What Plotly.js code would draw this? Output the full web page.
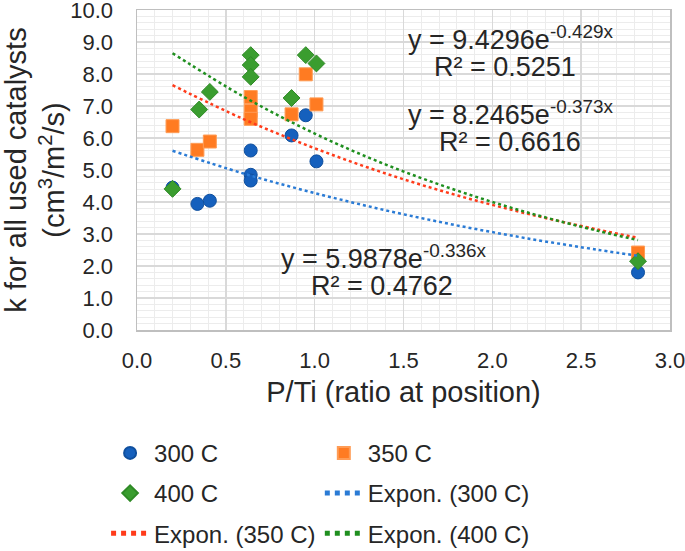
<!DOCTYPE html>
<html>
<head>
<meta charset="utf-8">
<script src="https://cdn.plot.ly/plotly-3.0.1.min.js"></script>
<style>
  html, body { margin: 0; padding: 0; background: #fff; }
  #chart { width: 685px; height: 551px; }
</style>
</head>
<body>
<div id="chart"></div>
<script>
// measured points, P/Ti ratio vs k
var x300 = [0.20, 0.34, 0.41, 0.64, 0.64, 0.64, 0.87, 0.95, 1.01, 2.82];
var k300 = [4.45, 3.94, 4.04, 5.61, 4.85, 4.67, 6.08, 6.71, 5.27, 1.80];

var x350 = [0.20, 0.34, 0.41, 0.64, 0.64, 0.64, 0.87, 0.95, 1.01, 2.82];
var k350 = [6.37, 5.63, 5.89, 7.28, 6.85, 6.60, 6.74, 7.99, 7.05, 2.42];

var x400 = [0.20, 0.35, 0.41, 0.64, 0.64, 0.64, 0.87, 0.95, 1.01, 2.82];
var k400 = [4.41, 6.89, 7.44, 8.59, 8.28, 7.91, 7.25, 8.59, 8.33, 2.15];

// trendline points
var xTrend = [0.2, 0.6, 1.0, 1.4, 1.8, 2.2, 2.6, 2.82];
var trend300 = [5.60, 4.89, 4.28, 3.74, 3.27, 2.86, 2.50, 2.32];
var trend350 = [7.65, 6.59, 5.68, 4.89, 4.21, 3.63, 3.13, 2.88];
var trend400 = [8.65, 7.29, 6.14, 5.17, 4.36, 3.67, 3.09, 2.81];

var font = 'Liberation Sans, Arial, sans-serif';

var traces = [
  {x: x300, y: k300, type: 'scatter', mode: 'markers', name: '300 C',
   legend: 'legend', legendgroup: 'a',
   marker: {symbol: 'circle', size: 13, color: '#1560bd', line: {color: '#0f4f9e', width: 1}}},
  {x: x350, y: k350, type: 'scatter', mode: 'markers', name: '350 C',
   legend: 'legend2', legendgroup: 'b',
   marker: {symbol: 'square', size: 13, color: '#ff7b22', line: {color: '#ff9c55', width: 1}}},
  {x: x400, y: k400, type: 'scatter', mode: 'markers', name: '400 C',
   legend: 'legend', legendgroup: 'c',
   marker: {symbol: 'diamond', size: 13, color: '#3a9d2f', line: {color: '#2f8a26', width: 1}}},
  {x: xTrend, y: trend300, type: 'scatter', mode: 'lines', name: 'Expon. (300 C)',
   legend: 'legend2', legendgroup: 'd',
   line: {shape: 'spline', dash: 'dot', width: 2.5, color: '#2a7bd5'}},
  {x: xTrend, y: trend350, type: 'scatter', mode: 'lines', name: 'Expon. (350 C)',
   legend: 'legend', legendgroup: 'e',
   line: {shape: 'spline', dash: 'dot', width: 2.5, color: '#ff3b1a'}},
  {x: xTrend, y: trend400, type: 'scatter', mode: 'lines', name: 'Expon. (400 C)',
   legend: 'legend2', legendgroup: 'f',
   line: {shape: 'spline', dash: 'dot', width: 2.5, color: '#1f8f1f'}}
];

var eqFont = {family: font, size: 27, color: '#262626'};
function eq(x, y, text) {
  return {x: x, y: y, xref: 'x', yref: 'y', text: text, showarrow: false,
          font: eqFont, xanchor: 'center', yanchor: 'middle'};
}

var legendBase = {
  orientation: 'v', traceorder: 'grouped', tracegroupgap: 6,
  itemsizing: 'constant', itemwidth: 38,
  xanchor: 'left', yanchor: 'top', y: -0.315,
  bgcolor: 'rgba(0,0,0,0)', font: {family: font, size: 24, color: '#262626'}
};

var layout = {
  width: 685, height: 551,
  margin: {l: 137, r: 15, t: 10, b: 221, autoexpand: false},
  paper_bgcolor: '#fff', plot_bgcolor: '#fff',
  font: {family: font, color: '#262626'},
  showlegend: true,
  legend: Object.assign({}, legendBase, {x: -0.058}),
  legend2: Object.assign({}, legendBase, {x: 0.343}),
  xaxis: {
    range: [0, 3], dtick: 0.5, tickformat: '.1f', ticklabeloverflow: 'allow',
    showgrid: true, gridcolor: '#d9d9d9', gridwidth: 1.5,
    minor: {dtick: 0.1, showgrid: true, gridcolor: '#ececec', gridwidth: 1},
    showline: true, linecolor: '#bfbfbf', linewidth: 1.5, mirror: true,
    zeroline: false, ticks: '', ticklabelstandoff: 10,
    tickfont: {family: font, size: 22, color: '#262626'},
    title: {text: 'P/Ti (ratio at position)', standoff: 10,
            font: {family: font, size: 29, color: '#262626'}}
  },
  yaxis: {
    range: [0, 10], dtick: 1, tickformat: '.1f', ticklabeloverflow: 'allow',
    showgrid: true, gridcolor: '#d9d9d9', gridwidth: 1.5,
    minor: {dtick: 0.2, showgrid: true, gridcolor: '#ececec', gridwidth: 1},
    showline: true, linecolor: '#bfbfbf', linewidth: 1.5, mirror: true,
    zeroline: false, ticks: '', ticklabelstandoff: 18,
    tickfont: {family: font, size: 22, color: '#262626'},
    title: {text: 'k for all used catalysts<br>(cm<sup>3</sup>/m<sup>2</sup>/s)', standoff: 14,
            font: {family: font, size: 29, color: '#262626'}}
  },
  annotations: [
    eq(2.10, 9.12, 'y = 9.4296e<sup>-0.429x</sup>'),
    eq(2.07, 8.21, 'R² = 0.5251'),
    eq(2.10, 6.77, 'y = 8.2465e<sup>-0.373x</sup>'),
    eq(2.10, 5.86, 'R² = 0.6616'),
    eq(1.39, 2.29, 'y = 5.9878e<sup>-0.336x</sup>'),
    eq(1.38, 1.38, 'R² = 0.4762')
  ]
};

Plotly.newPlot('chart', traces, layout, {displayModeBar: false, staticPlot: true});
</script>
</body>
</html>
